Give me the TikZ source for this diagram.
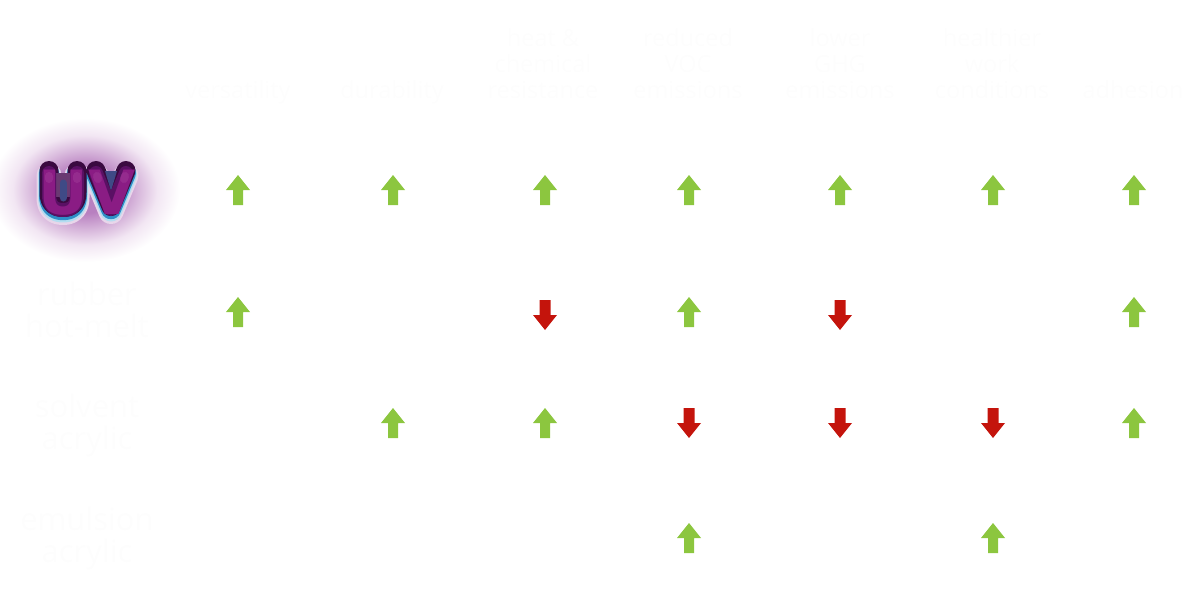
\documentclass[tikz,border=0pt]{standalone}
\usepackage{fontspec}
\setmainfont{Open Sans}
\newfontfamily\uvfont[BoldFont={DejaVu Sans Bold}]{DejaVu Sans}
\definecolor{uvA}{HTML}{B880C0}
\definecolor{uvB}{HTML}{D8B8DC}
\definecolor{uvC}{HTML}{F2E6F3}
\definecolor{uvHalo}{HTML}{E8D6EA}
\definecolor{uvPale}{HTML}{B4DDF0}
\definecolor{uvBlue}{HTML}{2F8FC8}
\definecolor{uvDark}{HTML}{3A0A40}
\definecolor{uvEdge}{HTML}{5A1064}
\definecolor{uvCore}{HTML}{8A1C84}
\definecolor{uvLight}{HTML}{B050A8}
\definecolor{uvGap}{HTML}{6A3A72}
\definecolor{uvGapB}{HTML}{3F4A86}
\definecolor{arrowgreen}{HTML}{8CC63F}
\definecolor{arrowred}{HTML}{C4140C}
\definecolor{ghost}{HTML}{FDFDFD}
\pgfdeclareradialshading{uvglow}{\pgfpoint{0bp}{0bp}}{
  color(0bp)=(uvA); color(8bp)=(uvA); color(14bp)=(uvB); color(19bp)=(uvC); color(25bp)=(white); color(50bp)=(white)}
\tikzset{
  x=1pt,y=-1pt,
  headlabel/.style={font=\fontsize{23.5}{26}\selectfont,text=ghost,align=center,anchor=base,inner sep=0pt},
  rowlabel/.style={font=\fontsize{31}{32}\selectfont,text=ghost,align=center,anchor=base,inner sep=0pt},
  uvstroke/.style={line cap=round,line join=round},
  arrowup/.pic={\fill[arrowgreen] (0,-15)--(12,0)--(5,0)--(5,15)--(-5,15)--(-5,0)--(-12,0)--cycle;},
  arrowdown/.pic={\fill[arrowred] (0,15)--(12,0)--(5.5,0)--(5.5,-15)--(-5.5,-15)--(-5.5,0)--(-12,0)--cycle;},
}
\newcommand{\uvshape}{(49,173) -- (49,195) .. controls (49,205) and (54,210) .. (63,210) .. controls (72,210) and (77,205) .. (77,195) -- (77,173)
  (96,173) -- (111,209) -- (126,173)}
\begin{document}
\begin{tikzpicture}
\useasboundingbox (0,0) rectangle (1200,600);
% glow
\shade[shading=uvglow] (85,190) ellipse [x radius=95,y radius=72];
% layered logo
\draw[uvstroke,line width=25,color=uvHalo,yshift=-2.5] \uvshape;
\draw[uvstroke,line width=22,color=uvPale,yshift=-1.5] \uvshape;
\draw[uvstroke,line width=20,color=uvBlue,yshift=-0.2] \uvshape;
\draw[uvstroke,line width=19,color=uvDark,yshift=2.5] \uvshape;
\fill[color=uvGap] (56,173) rectangle (70,197);
\draw[uvstroke,line width=7,color=uvGapB] (63,183) -- (63,198);
\fill[color=uvGapB] (105,171) -- (117,171) -- (111,191) -- cycle;
\draw[uvstroke,line width=14,color=uvEdge] \uvshape;
\node[inner sep=0pt,anchor=base,text=uvCore,font=\uvfont\bfseries\fontsize{61}{61}\selectfont] (uvlogo) at (87,214.5) {UV};
\draw[uvstroke,line width=8,color=uvLight,opacity=.3] (49,176) -- (49,179) (77,176) -- (77,179) (97,176) -- (98,179) (125,176) -- (124,179);
% header labels
\node[headlabel] (h1) at (238,98) {versatility};
\node[headlabel] (h2) at (392,98) {durability};
\node[headlabel] (h3) at (543,98) {heat \&\\chemical\\resistance};
\node[headlabel] (h4) at (688,98) {reduced\\VOC\\emissions};
\node[headlabel] (h5) at (840,98) {lower\\GHG\\emissions};
\node[headlabel] (h6) at (992,98) {healthier\\work\\conditions};
\node[headlabel] (h7) at (1133,98) {adhesion};
% row labels
\node[rowlabel] (r1) at (87,337) {rubber\\hot-melt};
\node[rowlabel] (r2) at (87,449) {solvent\\acrylic};
\node[rowlabel] (r3) at (87,562) {emulsion\\acrylic};
% arrows
\foreach \x in {238,393,545,689,840,993,1134} \pic at (\x,190) {arrowup};
\foreach \x in {238,689,1134} \pic at (\x,312) {arrowup};
\foreach \x in {545,840} \pic at (\x,315) {arrowdown};
\foreach \x in {393,545,1134} \pic at (\x,423) {arrowup};
\foreach \x in {689,840,993} \pic at (\x,423) {arrowdown};
\foreach \x in {689,993} \pic at (\x,538) {arrowup};
\end{tikzpicture}
\end{document}
